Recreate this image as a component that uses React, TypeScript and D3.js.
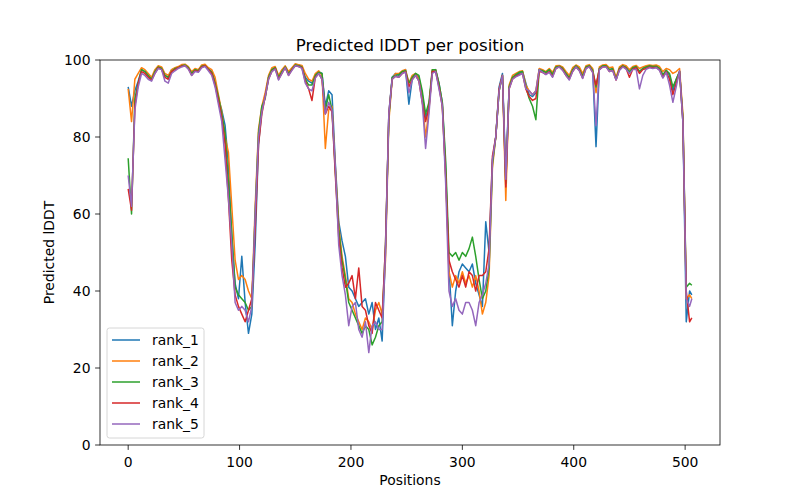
import * as d3 from 'd3';

// positions are sampled every 3 residues, plus the final residue
const POSITIONS = [...d3.range(0, 505, 3), 506];

const RANK_1 = [
  93, 88, 92, 94.5, 97.5, 97, 96, 95, 97, 98.3, 98, 96, 95.5, 97.5, 97.8, 98.2, 98.6, 98.8, 98, 96.8,
  97.5, 97.3, 98.5, 98.7, 97.8, 97, 94.5, 90, 87, 83, 73, 54, 42, 38, 49, 37, 29, 34, 52, 78,
  87, 91, 95.5, 97.5, 98, 95.5, 97, 98.3, 96.5, 97.8, 98.8, 98.7, 98.3, 95.5, 94.5, 94, 96, 97, 96.5, 88,
  92, 91, 73, 58, 53, 49, 41, 40, 38, 36, 37, 38, 34, 37, 30, 33, 27, 50, 86, 95.5,
  96.5, 96, 97, 97.5, 88.5, 95, 96.5, 95.5, 91, 85, 88, 97, 97.5, 94, 89, 72, 46, 31, 40, 45,
  47, 46, 45, 47, 42, 39, 36, 58, 50, 74, 80, 93, 96.5, 70, 93, 95.5, 96, 96.5, 97, 94,
  91, 90.5, 91.5, 97.5, 97.3, 96.8, 97.5, 96.3, 98.2, 98.5, 98, 96.5, 95.5, 97.5, 98.5, 97.8, 95.8, 98.2, 98.6, 97.5,
  77.5, 97.8, 98.5, 98.6, 97.5, 97.8, 95, 97.8, 98.6, 98.2, 97, 98, 98.3, 97, 97.8, 98.2, 98.5, 98.3, 98.4, 97.8,
  96, 97.3, 96, 92, 95, 97, 84, 32, 40, 39,
];

const RANK_2 = [
  92.5, 84, 95, 96.5, 98, 97.5, 96.5, 95.5, 97.5, 98.5, 98.2, 96.5, 96, 97.5, 98, 98.3, 98.8, 98.9, 98.3, 97,
  97.8, 97.5, 98.7, 98.9, 98, 97.5, 95.5, 91, 86.5, 80, 76, 62, 48, 43, 44, 43, 40, 38, 62, 82,
  88, 91.5, 96, 98, 98.3, 96, 97.5, 98.5, 97, 98, 99, 98.8, 98.6, 96.5, 95, 94.5, 96.5, 97.2, 96, 77,
  87, 88, 72, 57, 49, 44, 38, 37, 34, 32, 30, 33, 32, 30, 35, 37, 34, 48, 84, 95,
  96.5, 96.5, 97.2, 97.5, 94, 96, 96.5, 95, 90, 80, 87, 97.5, 97.5, 93.5, 88.5, 70, 45, 41, 44, 42,
  45, 42, 44, 41, 44, 40, 34, 37, 44, 72, 80, 92, 96, 63.5, 93.5, 96, 96.5, 97, 97.2, 93.5,
  92, 91, 92, 97.8, 97.5, 97, 97.8, 96.8, 98.5, 98.6, 98.2, 97, 96, 98, 98.7, 98.2, 96.5, 98.5, 98.8, 97.8,
  91.5, 98.2, 98.7, 98.8, 98, 98.2, 95.5, 98.2, 98.8, 98.5, 97.5, 98.3, 98.6, 97.8, 98.2, 98.5, 98.7, 98.6, 98.7, 98.3,
  97, 97.8, 97.5, 96.5, 97, 97.8, 86, 38, 39, 38,
];

const RANK_3 = [
  74.5, 60, 90, 94, 97.5, 97, 96, 95, 97, 98.2, 97.8, 96, 95.5, 97, 97.8, 98, 98.5, 98.7, 98, 96.5,
  97.5, 97.2, 98.4, 98.6, 97.6, 96.8, 94, 90.5, 86, 81, 68, 55, 41, 39, 38, 37, 35, 36, 60, 81,
  88, 90, 95.5, 97.5, 98, 95.5, 97, 98.2, 96.5, 97.6, 98.7, 98.5, 98.2, 95, 93.5, 93.5, 96, 96.8, 96.5, 87,
  91, 87, 71, 56, 48, 43, 37, 35, 33, 31, 29, 31, 30, 26, 28, 31, 32, 52, 85, 95.5,
  96, 96.2, 97, 97.2, 94, 95.5, 96.5, 96, 92, 86, 89, 97.5, 97.5, 94, 89, 74, 50, 49, 50, 48,
  50, 49, 51, 54, 49, 43, 38, 40, 46, 73, 80, 92, 96, 68, 93, 95.5, 96.2, 96.8, 97, 93,
  90, 88, 84.5, 97.5, 97.2, 96.8, 97.5, 96.3, 98.2, 98.4, 97.8, 96.5, 95.3, 97.5, 98.5, 97.6, 95.8, 98.2, 98.5, 97.3,
  93, 97.8, 98.5, 98.5, 97.5, 97.7, 95, 97.8, 98.5, 98, 96.8, 98, 98.3, 97, 97.8, 98.2, 98.5, 98.3, 98.4, 97.8,
  96.2, 97.3, 96.5, 93, 95, 97, 85, 41, 42, 41.5,
];

const RANK_4 = [
  66.5, 61, 88, 94, 97, 96.5, 95.5, 94.8, 96.5, 98, 97.5, 95.5, 95, 97, 97.5, 98, 98.4, 98.5, 97.8, 96,
  97.2, 97, 98.2, 98.5, 97.5, 96.5, 93.5, 89.5, 85, 78, 64, 48, 39, 36, 34, 32, 35, 38, 56, 78,
  86, 90.5, 95, 97, 97.8, 95, 96.5, 98, 96, 97.5, 98.5, 98.3, 98, 94.5, 92.5, 89.5, 95.5, 96.5, 95, 86,
  88, 86.5, 70, 54, 46, 41, 42, 44, 38, 46, 36, 35, 31, 29, 37, 35, 33, 52, 86, 95,
  95.8, 95.5, 96.5, 97, 93, 95, 96, 94.5, 89, 84, 87.5, 97, 97, 93, 88, 70, 48, 45, 43, 41,
  44, 41, 45, 44, 40, 44, 44, 45, 51, 75, 80, 92.5, 96, 67, 92.5, 95, 95.8, 96.2, 96.5, 92.5,
  90.5, 89.5, 90, 97, 96.8, 96.3, 97, 95.7, 97.8, 98.2, 97.5, 96, 95, 97, 98.2, 97.3, 95.3, 97.8, 98.3, 96.8,
  93.5, 97.5, 98.2, 98.3, 97, 97.3, 94.8, 97.5, 98.3, 97.8, 95.5, 97.6, 98, 96.5, 97.5, 97.8, 98.2, 98, 98.1, 97.4,
  95.5, 97, 95, 91, 94, 97, 84, 40, 32, 33,
];

const RANK_5 = [
  70, 62, 87, 93, 96.5, 96, 95, 94.5, 96.5, 97.8, 97.5, 94.5, 94, 96.5, 97.2, 97.8, 98.2, 98.5, 97.6, 96,
  97, 96.8, 98, 98.3, 97.2, 96, 93, 88.5, 84, 74, 64, 52, 37, 35, 36, 35, 32, 36, 60, 80,
  86.5, 90.5, 95, 97, 97.6, 94.8, 96.5, 98, 96, 97.3, 98.5, 98.3, 97.8, 94, 92.5, 92, 95.3, 96.5, 95, 86,
  89, 87, 72, 52, 44, 39, 31, 36, 37, 30, 28, 32, 24, 31, 32, 30, 30, 50, 86, 95,
  95.8, 95.5, 96.5, 96.8, 91.5, 94.8, 96, 94.5, 89, 77, 86, 96.5, 97, 92.5, 88, 68, 40, 36, 38, 35,
  34, 37, 37, 35, 31, 37, 39, 42, 47, 74, 80, 92, 96, 69, 92.5, 95, 95.6, 96, 96.5, 92.5,
  92, 91, 92, 97.5, 96.8, 96.2, 96.8, 95.5, 97.8, 98.2, 97.3, 96, 94.8, 97, 98.2, 97.2, 95.2, 97.8, 98.2, 96.8,
  83, 97.5, 98.2, 98.2, 97, 97.2, 94.8, 97.3, 98.2, 97.6, 96.5, 97.5, 97.6, 92.5, 96, 97.6, 98, 97.8, 98, 97.3,
  95.3, 96.8, 93.5, 89, 93, 97.2, 84, 38, 36, 38,
];

const SERIES = [
  { name: 'rank_1', values: RANK_1, color: '#1f77b4' },
  { name: 'rank_2', values: RANK_2, color: '#ff7f0e' },
  { name: 'rank_3', values: RANK_3, color: '#2ca02c' },
  { name: 'rank_4', values: RANK_4, color: '#d62728' },
  { name: 'rank_5', values: RANK_5, color: '#9467bd' },
];

const X_TICKS = [0, 100, 200, 300, 400, 500];
const Y_TICKS = [0, 20, 40, 60, 80, 100];

const W = 800;
const H = 500;
const LEFT = 100;
const RIGHT = 720;
const TOP = 60;
const BOTTOM = 445;
const FONT = 'DejaVu Sans, sans-serif';
const TICK_FS = 13.9;

export default function App() {
  const last = POSITIONS[POSITIONS.length - 1];
  const pad = last * 0.05;
  const x = d3.scaleLinear().domain([-pad, last + pad]).range([LEFT, RIGHT]);
  const y = d3.scaleLinear().domain([0, 100]).range([BOTTOM, TOP]);

  const line = d3.line<number>()
    .x((_, i) => x(POSITIONS[i]))
    .y(v => y(v));

  const legX = 107;
  const legY = 328;

  return (
    <div style={{ position: 'absolute', left: 0, top: 0 }}>
      <svg width={W} height={H} style={{ display: 'block', background: '#fff' }}>
        <defs>
          <clipPath id="plot-clip">
            <rect x={LEFT} y={TOP} width={RIGHT - LEFT} height={BOTTOM - TOP} />
          </clipPath>
        </defs>

        <g clipPath="url(#plot-clip)">
          {SERIES.map(s => (
            <path
              key={s.name}
              d={line(s.values) ?? ''}
              fill="none"
              stroke={s.color}
              strokeWidth={1.5}
              strokeLinejoin="round"
            />
          ))}
        </g>

        <rect
          x={LEFT}
          y={TOP}
          width={RIGHT - LEFT}
          height={BOTTOM - TOP}
          fill="none"
          stroke="#000"
          strokeWidth={0.8}
        />

        {X_TICKS.map(t => (
          <g key={t}>
            <line x1={x(t)} x2={x(t)} y1={BOTTOM} y2={BOTTOM + 4.9} stroke="#000" strokeWidth={0.8} />
            <text
              x={x(t)}
              y={BOTTOM + 22}
              textAnchor="middle"
              fontSize={TICK_FS}
              fontFamily={FONT}
            >
              {t}
            </text>
          </g>
        ))}

        {Y_TICKS.map(t => (
          <g key={t}>
            <line x1={LEFT - 4.9} x2={LEFT} y1={y(t)} y2={y(t)} stroke="#000" strokeWidth={0.8} />
            <text
              x={LEFT - 9.5}
              y={y(t)}
              dy="0.35em"
              textAnchor="end"
              fontSize={TICK_FS}
              fontFamily={FONT}
            >
              {t}
            </text>
          </g>
        ))}

        <text x={(LEFT + RIGHT) / 2} y={51} textAnchor="middle" fontSize={16.7} fontFamily={FONT}>
          Predicted lDDT per position
        </text>
        <text x={(LEFT + RIGHT) / 2} y={485} textAnchor="middle" fontSize={TICK_FS} fontFamily={FONT}>
          Positions
        </text>
        <text
          transform={`translate(54, ${(TOP + BOTTOM) / 2}) rotate(-90)`}
          textAnchor="middle"
          fontSize={TICK_FS}
          fontFamily={FONT}
        >
          Predicted lDDT
        </text>

        <g>
          <rect
            x={legX}
            y={legY}
            width={97}
            height={110}
            rx={2.5}
            fill="#fff"
            fillOpacity={0.8}
            stroke="#cccccc"
            strokeWidth={0.8}
          />
          {SERIES.map((s, i) => {
            const ry = legY + 12 + i * 21;
            return (
              <g key={s.name}>
                <line x1={legX + 5} x2={legX + 33} y1={ry} y2={ry} stroke={s.color} strokeWidth={1.5} />
                <text x={legX + 45} y={ry} dy="0.35em" fontSize={TICK_FS} fontFamily={FONT}>
                  {s.name}
                </text>
              </g>
            );
          })}
        </g>
      </svg>
    </div>
  );
}
